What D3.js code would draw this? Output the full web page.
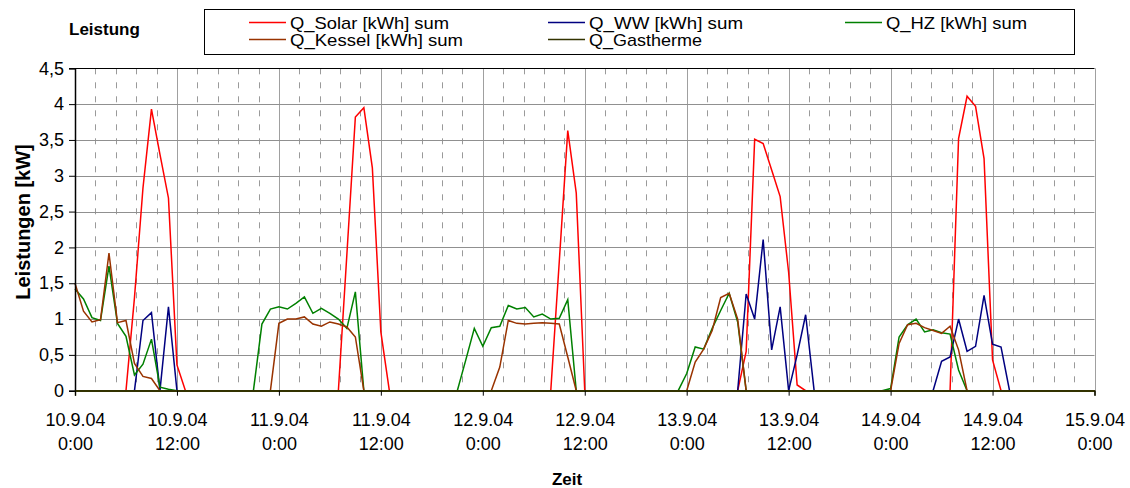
<!DOCTYPE html>
<html>
<head>
<meta charset="utf-8">
<script src="https://cdn.jsdelivr.net/npm/d3@7"></script>
<style>
  html, body { margin: 0; padding: 0; background: #fff; }
  svg text { font-family: "Liberation Sans", Arial, sans-serif; fill: #000; }
</style>
</head>
<body>
<svg id="chart" width="1130" height="488"></svg>
<script>
// Hourly readings from 10.9.04 0:00 to 15.9.04 0:00 (121 values per series, one row per day)
const startZeit = Date.UTC(2004, 8, 10, 0, 0);
const endZeit = Date.UTC(2004, 8, 15, 0, 0);

const qSolar = [
  0, 0, 0, 0, 0, 0, 0, 1.3, 2.83, 3.93, 3.3, 2.69, 0.36, 0, 0, 0, 0, 0, 0, 0, 0, 0, 0, 0,
  0, 0, 0, 0, 0, 0, 0, 0, 1.9, 3.82, 3.95, 3.11, 0.82, 0, 0, 0, 0, 0, 0, 0, 0, 0, 0, 0,
  0, 0, 0, 0, 0, 0, 0, 0, 0, 1.8, 3.63, 2.76, 0, 0, 0, 0, 0, 0, 0, 0, 0, 0, 0, 0,
  0, 0, 0, 0, 0, 0, 0, 0.55, 3.51, 3.45, 3.08, 2.71, 1.65, 0.08, 0, 0, 0, 0, 0, 0, 0, 0, 0, 0,
  0, 0, 0, 0, 0, 0, 0, 0, 3.52, 4.11, 3.97, 3.24, 0.43, 0, 0, 0, 0, 0, 0, 0, 0, 0, 0, 0,
  0
];

const qWW = [
  0, 0, 0, 0, 0, 0, 0, 0, 0.98, 1.09, 0, 1.17, 0, 0, 0, 0, 0, 0, 0, 0, 0, 0, 0, 0,
  0, 0, 0, 0, 0, 0, 0, 0, 0, 0, 0, 0, 0, 0, 0, 0, 0, 0, 0, 0, 0, 0, 0, 0,
  0, 0, 0, 0, 0, 0, 0, 0, 0, 0, 0, 0, 0, 0, 0, 0, 0, 0, 0, 0, 0, 0, 0, 0,
  0, 0, 0, 0, 0, 0, 0, 1.35, 1.0, 2.11, 0.57, 1.17, 0, 0.5, 1.06, 0, 0, 0, 0, 0, 0, 0, 0, 0,
  0, 0, 0, 0, 0, 0, 0.41, 0.47, 1.0, 0.55, 0.62, 1.33, 0.65, 0.61, 0, 0, 0, 0, 0, 0, 0, 0, 0, 0,
  0
];

const qHZ = [
  1.42, 1.28, 1.02, 0.98, 1.74, 0.94, 0.76, 0.22, 0.37, 0.72, 0.05, 0.02, 0, 0, 0, 0, 0, 0, 0, 0, 0, 0, 0.93, 1.14,
  1.17, 1.14, 1.22, 1.31, 1.08, 1.15, 1.08, 1.0, 0.87, 1.38, 0, 0, 0, 0, 0, 0, 0, 0, 0, 0, 0, 0, 0.43, 0.87,
  0.62, 0.88, 0.9, 1.19, 1.14, 1.16, 1.03, 1.07, 1.0, 1.01, 1.27, 0, 0, 0, 0, 0, 0, 0, 0, 0, 0, 0, 0, 0,
  0.24, 0.61, 0.58, 0.87, 1.12, 1.36, 0.96, 0, 0, 0, 0, 0, 0, 0, 0, 0, 0, 0, 0, 0, 0, 0, 0, 0,
  0.03, 0.75, 0.92, 1.0, 0.82, 0.85, 0.81, 0.79, 0.29, 0, 0, 0, 0, 0, 0, 0, 0, 0, 0, 0, 0, 0, 0, 0,
  0
];

const qKessel = [
  1.5, 1.11, 0.96, 0.99, 1.92, 0.95, 0.98, 0.38, 0.2, 0.17, 0, 0, 0, 0, 0, 0, 0, 0, 0, 0, 0, 0, 0, 0,
  0.94, 1.0, 1.0, 1.03, 0.93, 0.9, 0.96, 0.93, 0.89, 0.75, 0, 0, 0, 0, 0, 0, 0, 0, 0, 0, 0, 0, 0, 0,
  0, 0, 0.33, 0.98, 0.94, 0.93, 0.94, 0.95, 0.94, 0.93, 0.47, 0, 0, 0, 0, 0, 0, 0, 0, 0, 0, 0, 0, 0,
  0, 0.4, 0.58, 0.84, 1.3, 1.36, 1.0, 0, 0, 0, 0, 0, 0, 0, 0, 0, 0, 0, 0, 0, 0, 0, 0, 0,
  0, 0.66, 0.92, 0.94, 0.88, 0.84, 0.8, 0.9, 0.57, 0, 0, 0, 0, 0, 0, 0, 0, 0, 0, 0, 0, 0, 0, 0,
  0
];

const qGastherme = [
  0, 0, 0, 0, 0, 0, 0, 0, 0, 0, 0, 0, 0, 0, 0, 0, 0, 0, 0, 0, 0, 0, 0, 0,
  0, 0, 0, 0, 0, 0, 0, 0, 0, 0, 0, 0, 0, 0, 0, 0, 0, 0, 0, 0, 0, 0, 0, 0,
  0, 0, 0, 0, 0, 0, 0, 0, 0, 0, 0, 0, 0, 0, 0, 0, 0, 0, 0, 0, 0, 0, 0, 0,
  0, 0, 0, 0, 0, 0, 0, 0, 0, 0, 0, 0, 0, 0, 0, 0, 0, 0, 0, 0, 0, 0, 0, 0,
  0, 0, 0, 0, 0, 0, 0, 0, 0, 0, 0, 0, 0, 0, 0, 0, 0, 0, 0, 0, 0, 0, 0, 0,
  0
];

const seriesNames = ["Q_Solar [kWh] sum", "Q_WW [kWh] sum", "Q_HZ [kWh] sum", "Q_Kessel [kWh] sum", "Q_Gastherme"];
const seriesColors = ["#ff0000", "#000080", "#008000", "#993300", "#333300"];
const seriesValues = [qSolar, qWW, qHZ, qKessel, qGastherme];

const yTicks = [0, 0.5, 1, 1.5, 2, 2.5, 3, 3.5, 4, 4.5];

// hourly time stamps for the samples
const zeit = d3.utcHour.range(new Date(startZeit), new Date(endZeit + 1));

const svg = d3.select("#chart");
const plotLeft = 75, plotRight = 1094.5, plotTop = 68.3, plotBottom = 390.7;

const x = d3.scaleUtc().domain([new Date(startZeit), new Date(endZeit)]).range([plotLeft, plotRight]);
const y = d3.scaleLinear().domain([0, 4.5]).range([plotBottom, plotTop]);

// major time ticks every 12 h, minor grid every 0.1 day
const majorTicks = d3.utcHour.every(12).range(new Date(startZeit), new Date(endZeit + 1));
const minorTicks = d3.range(1, 50).filter(k => k % 5 !== 0)
  .map(k => new Date(startZeit + k * 2.4 * 3600 * 1000));

const grid = svg.append("g");
grid.selectAll("line.minor").data(minorTicks).join("line")
  .attr("x1", d => Math.round(x(d)) + 0.5).attr("x2", d => Math.round(x(d)) + 0.5)
  .attr("y1", plotTop).attr("y2", plotBottom)
  .attr("stroke", "#9a9a9a").attr("stroke-width", 1).attr("stroke-dasharray", "6,8");
grid.selectAll("line.major").data(majorTicks.slice(1)).join("line")
  .attr("x1", d => Math.round(x(d)) + 0.5).attr("x2", d => Math.round(x(d)) + 0.5)
  .attr("y1", plotTop).attr("y2", plotBottom)
  .attr("stroke", "#a0a0a0").attr("stroke-width", 1);
grid.selectAll("line.h").data(yTicks.slice(1, -1)).join("line")
  .attr("x1", plotLeft).attr("x2", plotRight)
  .attr("y1", d => Math.round(y(d)) + 0.5).attr("y2", d => Math.round(y(d)) + 0.5)
  .attr("stroke", "#909090").attr("stroke-width", 1);

// plot area top border
svg.append("line").attr("x1", plotLeft).attr("x2", plotRight)
  .attr("y1", Math.round(plotTop) + 0.5).attr("y2", Math.round(plotTop) + 0.5)
  .attr("stroke", "#000").attr("stroke-width", 1);

// series lines
const line = d3.line().x((d, i) => x(zeit[i])).y(d => y(d));
svg.append("g").selectAll("path").data(seriesValues).join("path")
  .attr("d", d => line(d))
  .attr("fill", "none")
  .attr("stroke", (d, i) => seriesColors[i])
  .attr("stroke-width", 1.5)
  .attr("stroke-linejoin", "miter");

// y axis
const yAxis = d3.axisLeft(y).tickValues(yTicks).tickSize(6).tickPadding(5)
  .tickFormat(d => d3.format("")(d).replace(".", ","));
const gy = svg.append("g").attr("transform", `translate(${plotLeft},0)`).call(yAxis);
gy.select(".domain").attr("stroke", "#000").attr("stroke-width", 1.5);
gy.selectAll(".tick line").attr("stroke", "#000");
gy.selectAll(".tick text").attr("font-size", 18).attr("font-family", "Liberation Sans, Arial, sans-serif");

// x axis
const fDate = d3.utcFormat("%-d.%-m.%y");
const fTime = d3.utcFormat("%-H:%M");
const xAxis = d3.axisBottom(x).tickValues(majorTicks).tickSize(5).tickFormat("");
const gx = svg.append("g").attr("transform", `translate(0,${plotBottom})`).call(xAxis);
gx.select(".domain").attr("stroke", "#333300").attr("stroke-width", 1.5);
gx.selectAll(".tick line").attr("stroke", "#000");
const lbl = gx.selectAll(".tick").append("text")
  .attr("text-anchor", "middle").attr("font-size", 18).attr("fill", "#000");
lbl.append("tspan").attr("x", 0).attr("y", 35).text(d => fDate(d));
lbl.append("tspan").attr("x", 0).attr("y", 59).text(d => fTime(d));

// titles
svg.append("text").attr("x", 69).attr("y", 35).attr("font-size", 17).attr("font-weight", "bold").text("Leistung");
svg.append("text").attr("x", 567).attr("y", 485).attr("text-anchor", "middle")
  .attr("font-size", 17).attr("font-weight", "bold").text("Zeit");
svg.append("text").attr("transform", "translate(30,222) rotate(-90)").attr("text-anchor", "middle")
  .attr("font-size", 20).attr("font-weight", "bold").text("Leistungen [kW]");

// legend
const legend = svg.append("g");
legend.append("rect").attr("x", 204.5).attr("y", 9.5).attr("width", 870).attr("height", 45)
  .attr("fill", "#fff").attr("stroke", "#000").attr("stroke-width", 1);
const legendPos = [[249, 22.5], [548, 22.5], [845, 22.5], [249, 39.5], [548, 39.5]];
const legendWidths = [159, 154, 141, 173, 113];
seriesNames.forEach((name, i) => {
  const [lx, ly] = legendPos[i];
  legend.append("line").attr("x1", lx).attr("x2", lx + 37).attr("y1", ly).attr("y2", ly)
    .attr("stroke", seriesColors[i]).attr("stroke-width", 1.5);
  legend.append("text").attr("x", lx + 41).attr("y", ly + 6).attr("font-size", 17)
    .attr("textLength", legendWidths[i]).attr("lengthAdjust", "spacingAndGlyphs").text(name);
});
</script>
</body>
</html>
